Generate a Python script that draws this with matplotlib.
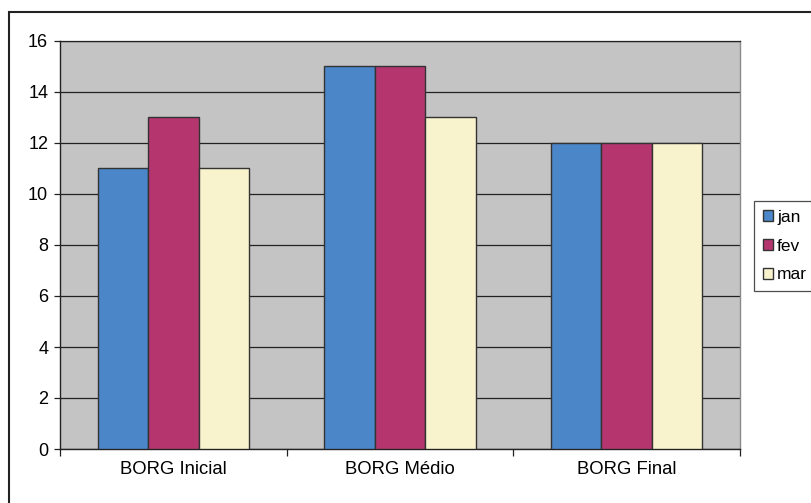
import numpy as np
import matplotlib.pyplot as plt
from matplotlib.patches import Rectangle

plt.rcParams["font.family"] = ["Liberation Sans", "DejaVu Sans"]

# BORG scale scores per phase and month
categories = ["BORG Inicial", "BORG Médio", "BORG Final"]
series_names = ["jan", "fev", "mar"]
jan = [11, 15, 12]
fev = [13, 15, 12]
mar = [11, 13, 12]
y_ticks = [0, 2, 4, 6, 8, 10, 12, 14, 16]

colors = ["#4A86C8", "#B5366F", "#F8F3CC"]

fig = plt.figure(figsize=(8.12, 5.03), dpi=100)
ax = fig.add_axes([60 / 812, 1 - 449 / 503, 680 / 812, 408 / 503])
ax.set_facecolor("#C4C4C4")

x = np.arange(len(categories))
width = 0.2225
for i, (name, vals) in enumerate(zip(series_names, [jan, fev, mar])):
    ax.bar(x + (i - 1) * width, vals, width, color=colors[i],
           edgecolor="#333333", linewidth=1.0, label=name, zorder=3)

ax.set_xlim(-0.5, 2.5)
ax.set_ylim(0, 16)
ax.set_yticks(y_ticks)
ax.yaxis.grid(True, color="#222222", linewidth=0.9, zorder=1)
ax.tick_params(axis="y", direction="out", length=4.5, width=0.9,
               labelsize=13, pad=4, color="#222222")

# category labels centred, ticks on group boundaries
ax.set_xticks([-0.5, 0.5, 1.5, 2.5])
ax.set_xticklabels([])
ax.set_xticks(x, minor=True)
ax.set_xticklabels(categories, minor=True, fontsize=13.3)
ax.tick_params(axis="x", which="major", direction="out", length=5,
               width=0.9, color="#222222")
ax.tick_params(axis="x", which="minor", length=0, pad=9)

for side in ["left", "bottom"]:
    ax.spines[side].set_color("#222222")
    ax.spines[side].set_linewidth(1.0)
ax.spines["top"].set_color("#222222")
ax.spines["top"].set_linewidth(0.9)
ax.spines["right"].set_color("#8A8A8A")
ax.spines["right"].set_linewidth(1.0)

leg = fig.legend(loc="upper left", bbox_to_anchor=(754 / 812, 1 - 201 / 503),
                 fontsize=12.5, frameon=True, fancybox=False, borderpad=0.5,
                 handlelength=0.58, handleheight=0.58, handletextpad=0.25,
                 labelspacing=0.8, borderaxespad=0)
leg.get_frame().set_edgecolor("#222222")
leg.get_frame().set_linewidth(0.9)

# outer chart border
fig.patches.append(Rectangle((9 / 812, -0.1), 1.2, 1 - 12 / 503 + 0.1,
                             transform=fig.transFigure, fill=False,
                             edgecolor="#222222", linewidth=1.5))

fig.savefig("out.png", dpi=100)
plt.close(fig)
